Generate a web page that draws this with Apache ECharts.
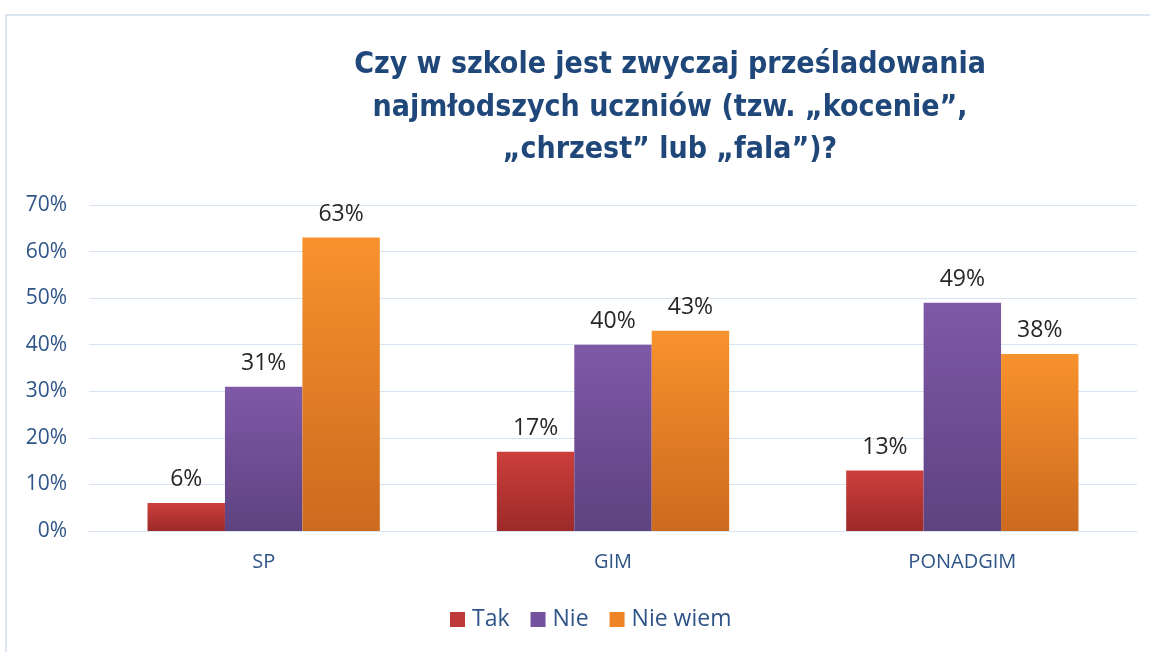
<!DOCTYPE html>
<html>
<head>
<meta charset="utf-8">
<script src="https://cdn.jsdelivr.net/npm/echarts@6/dist/echarts.min.js"></script>
<style>
html,body{margin:0;padding:0;background:#fff;}
#frame{position:absolute;left:5px;top:14px;width:1145px;height:638px;border-top:2px solid #dce6f2;border-left:2px solid #dce6f2;}
#chart{position:absolute;left:0;top:0;width:1150px;height:652px;}
</style>
</head>
<body>
<div id="frame"></div>
<div id="chart"></div>
<script>
const titleText = 'Czy w szkole jest zwyczaj prześladowania\nnajmłodszych uczniów (tzw. „kocenie”,\n„chrzest” lub „fala”)?';
const categories = ['SP', 'GIM', 'PONADGIM'];
const seriesNames = ['Tak', 'Nie', 'Nie wiem'];
const takValues = [6, 17, 13];
const nieValues = [31, 40, 49];
const nieWiemValues = [63, 43, 38];
const yTicks = [0, 10, 20, 30, 40, 50, 60, 70];

const grad = (top, bottom) => new echarts.graphic.LinearGradient(0, 0, 0, 1, [
  {offset: 0, color: top}, {offset: 1, color: bottom}
]);
const colors = [
  grad('#cc3f3c', '#9c2a29'),
  grad('#7f59a7', '#5d4280'),
  grad('#f8922d', '#cc6a1f')
];
const legendColors = ['#c0393a', '#7552a0', '#ee8426'];
const valuesList = [takValues, nieValues, nieWiemValues];

const chart = echarts.init(document.getElementById('chart'), null, {renderer: 'canvas'});
chart.setOption({
  animation: false,
  backgroundColor: 'transparent',
  title: {
    text: titleText,
    left: 665,
    textAlign: 'center',
    top: 39,
    textStyle: {
      fontFamily: 'DejaVu Sans Condensed',
      fontWeight: 'bold',
      fontSize: 30,
      lineHeight: 42.5,
      color: '#1f477a'
    }
  },
  grid: {left: 89, right: 13, top: 205, bottom: 121, containLabel: false},
  xAxis: {
    type: 'category',
    data: categories,
    axisLine: {show: true, lineStyle: {color: '#d9e4f1', width: 1}},
    axisTick: {show: false},
    axisLabel: {
      color: '#2f5588',
      fontFamily: 'Open Sans',
      fontSize: 20,
      margin: 21
    }
  },
  yAxis: {
    type: 'value',
    min: 0,
    max: 70,
    interval: 10,
    axisLine: {show: false},
    axisTick: {show: false},
    splitLine: {lineStyle: {color: '#d9e4f1', width: 1}},
    axisLabel: {
      color: '#2f5588',
      fontFamily: 'Open Sans',
      fontSize: 21,
      margin: 22,
      formatter: v => v + '%'
    }
  },
  legend: {
    data: seriesNames.map((n, i) => ({name: n, itemStyle: {color: legendColors[i]}})),
    left: 445,
    top: 603,
    itemWidth: 15,
    itemHeight: 15,
    itemGap: 21,
    icon: 'rect',
    textStyle: {color: '#2f5588', fontFamily: 'Open Sans', fontSize: 23, padding: [0, 0, 0, 2]}
  },
  series: seriesNames.map((name, i) => ({
    name: name,
    type: 'bar',
    data: valuesList[i],
    barGap: '0%',
    barCategoryGap: '33.5%',
    itemStyle: {color: colors[i]},
    label: {
      show: true,
      position: 'top',
      distance: 12,
      formatter: p => p.value + '%',
      color: '#262626',
      fontFamily: 'Open Sans',
      fontSize: 23
    }
  }))
});
</script>
</body>
</html>
